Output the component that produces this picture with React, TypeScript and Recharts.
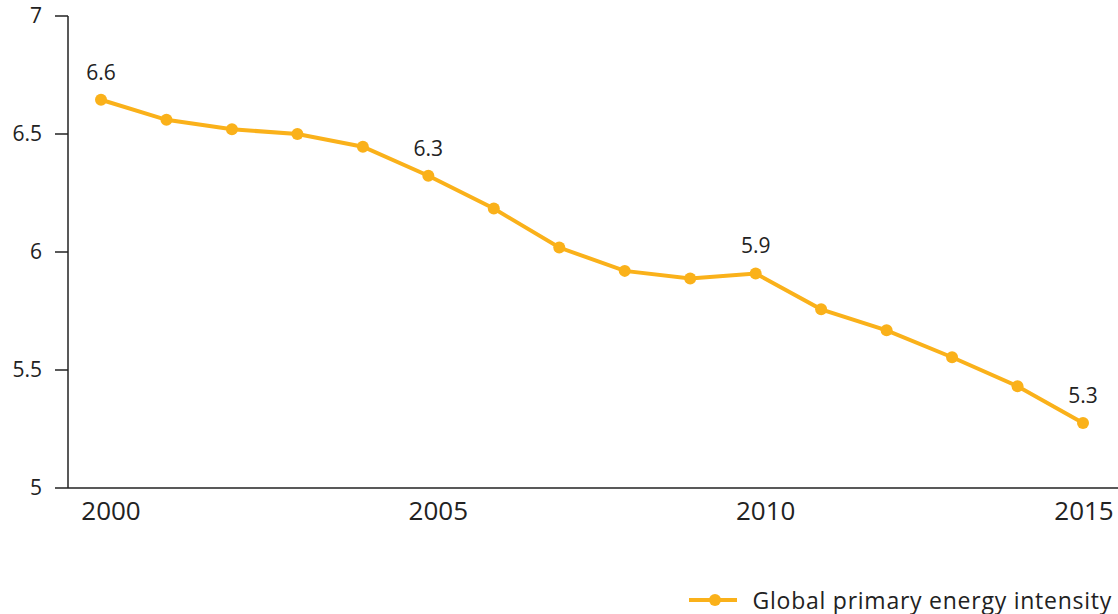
import React from "react";
import {
  LineChart,
  Line,
  XAxis,
  YAxis,
  Legend,
  LabelList,
} from "recharts";

const years = [
  2000, 2001, 2002, 2003, 2004, 2005, 2006, 2007, 2008, 2009, 2010, 2011,
  2012, 2013, 2014, 2015,
];
const intensity = [
  6.645, 6.56, 6.52, 6.5, 6.446, 6.323, 6.184, 6.019, 5.92, 5.888, 5.909,
  5.757, 5.668, 5.554, 5.431, 5.275,
];
const labeledYears = [2000, 2005, 2010, 2015];
const xTicks = [2000, 2005, 2010, 2015];
const yTicks = [5, 5.5, 6, 6.5, 7];
const seriesName = "Global primary energy intensity";

const data = years.map((year, i) => ({ year, value: intensity[i] }));

const ORANGE = "#FAB11A";
const TEXT = "#222";
const FONT = "'Open Sans', sans-serif";

// only a few points carry a value label
const PointLabel = (props: any) => {
  const { x, y, value, index } = props;
  if (!labeledYears.includes(years[index])) return null;
  return (
    <text
      x={x}
      y={y - 20}
      textAnchor="middle"
      fontSize={21}
      fontFamily={FONT}
      fill={TEXT}
    >
      {Number(value).toFixed(1)}
    </text>
  );
};

// year labels sit a little right of their point; the last one is kept inside the frame
const YearTick = (props: any) => {
  const { x, y, payload, index } = props;
  const shift = index === xTicks.length - 1 ? 1 : 10;
  return (
    <text
      x={x + shift}
      y={y}
      dy="0.71em"
      textAnchor="middle"
      fontSize={26}
      fontFamily={FONT}
      fill={TEXT}
    >
      {payload.value}
    </text>
  );
};

const LegendContent = () => (
  <div
    style={{
      height: 76,
      display: "flex",
      justifyContent: "flex-end",
      alignItems: "flex-end",
      paddingRight: 6,
      boxSizing: "border-box",
    }}
  >
    <svg width={48} height={28} style={{ marginRight: 16 }}>
      <line x1={0} y1={14} x2={48} y2={14} stroke={ORANGE} strokeWidth={4} />
      <circle cx={26} cy={14} r={6} fill={ORANGE} />
    </svg>
    <span
      style={{
        fontFamily: FONT,
        fontSize: 23,
        color: TEXT,
        lineHeight: "28px",
        letterSpacing: 0.75,
      }}
    >
      {seriesName}
    </span>
  </div>
);

export default function App() {
  return (
    <div style={{ position: "absolute", left: 0, top: 0 }}>
      <LineChart
        width={1118}
        height={614}
        data={data}
        margin={{ top: 16, right: 0, left: 0, bottom: 0 }}
      >
        <XAxis
          dataKey="year"
          type="number"
          domain={[2000, 2015]}
          ticks={xTicks}
          padding={{ left: 33, right: 35 }}
          axisLine={{ stroke: TEXT, strokeWidth: 1.5 }}
          tickLine={false}
          tickSize={6}
          tickMargin={8}
          height={50}
          tick={<YearTick />}
        />
        <YAxis
          type="number"
          domain={[5, 7]}
          ticks={yTicks}
          width={68}
          axisLine={{ stroke: TEXT, strokeWidth: 1.5 }}
          tickLine={{ stroke: TEXT, strokeWidth: 1.5 }}
          tickSize={13}
          tickMargin={13}
          tick={{ fontSize: 21, fontFamily: FONT, fill: TEXT }}
        />
        <Legend verticalAlign="bottom" align="right" content={<LegendContent />} />
        <Line
          dataKey="value"
          name={seriesName}
          stroke={ORANGE}
          strokeWidth={4}
          dot={{ r: 6, fill: ORANGE, stroke: "none" }}
          activeDot={false}
          isAnimationActive={false}
        >
          <LabelList dataKey="value" content={<PointLabel />} />
        </Line>
      </LineChart>
    </div>
  );
}
